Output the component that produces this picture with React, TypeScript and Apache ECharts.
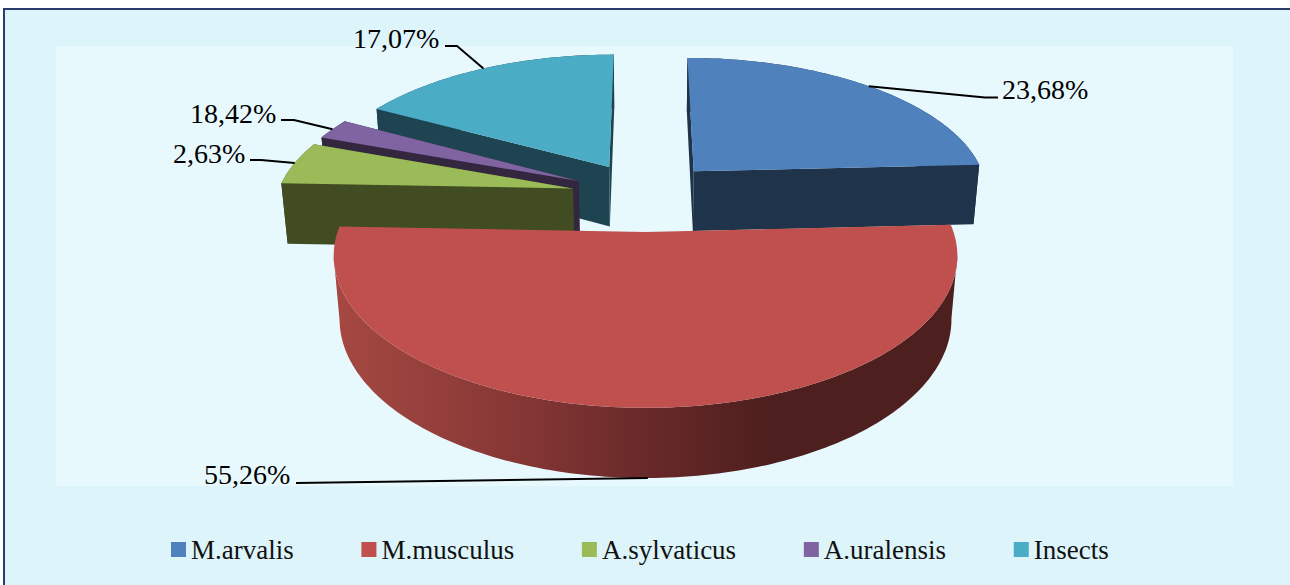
import React, { useEffect, useRef } from "react";
import * as echarts from "echarts";

// ---- data ----
const CATEGORIES = ["M.arvalis", "M.musculus", "A.sylvaticus", "A.uralensis", "Insects"];
// Sweep of every slice as drawn, in percent of the circle
const SWEEPS = [24.2, 51.4, 5.0, 2.4, 17.0];
// Labels printed on the chart (they do not follow the drawn sweeps)
const LABELS = ["23,68%", "55,26%", "2,63%", "18,42%", "17,07%"];

// ---- style ----
const TOP_COLORS = ["#4F81BD", "#BF504D", "#9BBB59", "#8064A2", "#4BACC6"];
const WALL_COLORS = ["#1F334A", "#6B2A28", "#414C22", "#33263F", "#1D4450"];
const SERIES_Z = [3, 6, 5, 4, 2];
const EXPLODE = [0.245, 0.26, 0.25, 0.25, 0.245];
const FONT = "Liberation Serif";
const LABEL_SIZE = 28;
const LEGEND_SIZE = 27;

// ---- projection of the tilted disc ----
const CX = 645;
const CY = 195;
const R = 296;
const K = 137;
const P = 0.15;
const Q = 0.018;
const D = 62;

// label layout: text left x, text centre y, leader path from the text to the rim
const LABEL_LAYOUT: { x: number; y: number; leader: number[][]; bottomRim?: boolean }[] = [
  { x: 1002, y: 89, leader: [[998, 97.5], [985, 97.5]] },
  { x: 204, y: 474, leader: [[296, 483]], bottomRim: true },
  { x: 173, y: 153, leader: [[250, 160], [261, 160]] },
  { x: 190, y: 113, leader: [[281, 120], [294, 120]] },
  { x: 353, y: 38, leader: [[445, 46], [457, 46]] },
];

const total = SWEEPS.reduce((a, b) => a + b, 0);
const starts: number[] = [];
SWEEPS.reduce((acc, v, i) => {
  starts[i] = acc;
  return acc + v;
}, 0);
const toAngle = (share: number) => (share / total) * Math.PI * 2;

function project(X: number, Y: number, bottom: boolean): number[] {
  const s = 1 / (1 - P * Y + (bottom ? Q : 0));
  return [CX + R * X * s, CY + (K * Y + (bottom ? D : 0)) * s];
}

function sliceGeometry(i: number) {
  const a0 = toAngle(starts[i]);
  const a1 = toAngle(starts[i] + SWEEPS[i]);
  const mid = (a0 + a1) / 2;
  const ox = Math.sin(mid) * EXPLODE[i];
  const oy = -Math.cos(mid) * EXPLODE[i];
  const rim = (a: number, bottom: boolean) => project(ox + Math.sin(a), oy - Math.cos(a), bottom);
  const arc = (bottom: boolean) => {
    const n = Math.max(8, Math.ceil((a1 - a0) / 0.02));
    const pts: number[][] = [];
    for (let k = 0; k <= n; k++) pts.push(rim(a0 + ((a1 - a0) * k) / n, bottom));
    return pts;
  };
  return {
    a0,
    a1,
    mid,
    rim,
    arc,
    apexTop: project(ox, oy, false),
    apexBottom: project(ox, oy, true),
  };
}

// Part of an arc between its rightmost and its leftmost point: the visible front of the wall
function frontPart(arc: number[][]) {
  let iMax = 0;
  let iMin = 0;
  arc.forEach((p, k) => {
    if (p[0] > arc[iMax][0]) iMax = k;
    if (p[0] < arc[iMin][0]) iMin = k;
  });
  return arc.slice(iMax, iMin + 1);
}

const redWall = {
  type: "linear",
  x: 335,
  y: 0,
  x2: 955,
  y2: 0,
  global: true,
  colorStops: [
    { offset: 0, color: "#A64842" },
    { offset: 0.3, color: "#853735" },
    { offset: 0.476, color: "#6C2B2A" },
    { offset: 0.7, color: "#4D1F1E" },
    { offset: 1, color: "#4D1F1E" },
  ],
};

function makeRenderItem(i: number) {
  return () => {
    const g = sliceGeometry(i);
    const topArc = g.arc(false);
    const bottomArc = g.arc(true);
    const wall = WALL_COLORS[i];
    const children: any[] = [];
    // outer wall
    const wallPoints =
      i === 1
        ? [...frontPart(topArc), ...frontPart(bottomArc).reverse()]
        : [...topArc, ...bottomArc.slice().reverse()];
    children.push({
      type: "polygon",
      shape: { points: wallPoints },
      style: { fill: i === 1 ? redWall : wall },
    });
    // cut faces
    if (i !== 1) {
      children.push({
        type: "polygon",
        shape: { points: [g.apexTop, g.rim(g.a0, false), g.rim(g.a0, true), g.apexBottom] },
        style: { fill: wall },
      });
      children.push({
        type: "polygon",
        shape: { points: [g.apexTop, g.rim(g.a1, false), g.rim(g.a1, true), g.apexBottom] },
        style: { fill: wall },
      });
    }
    // top face
    children.push({
      type: "polygon",
      shape: { points: [g.apexTop, ...topArc] },
      style: { fill: TOP_COLORS[i] },
    });
    // leader and label
    const layout = LABEL_LAYOUT[i];
    const anchor = g.rim(g.mid, !!layout.bottomRim);
    children.push({
      type: "polyline",
      shape: { points: [...layout.leader, anchor] },
      style: { stroke: "#000", lineWidth: 2, fill: "none" },
    });
    children.push({
      type: "text",
      style: {
        text: LABELS[i],
        x: layout.x,
        y: layout.y,
        fontSize: LABEL_SIZE,
        fontFamily: FONT,
        fill: "#000",
        align: "left",
        verticalAlign: "middle",
      },
    });
    return { type: "group", children };
  };
}

export default function App() {
  const ref = useRef<HTMLDivElement>(null);
  useEffect(() => {
    const chart = echarts.init(ref.current!, undefined, { renderer: "svg" });
    chart.setOption({
      animation: false,
      backgroundColor: "#FFFFFF",
      graphic: [
        { type: "rect", shape: { x: 5, y: 9, width: 1285, height: 576 }, style: { fill: "#DDF5FA" }, z: 0 },
        { type: "rect", shape: { x: 56, y: 46, width: 1177, height: 440 }, style: { fill: "#E8F9FE" }, z: 0 },
        { type: "rect", shape: { x: 3, y: 8, width: 1287, height: 2 }, style: { fill: "#2B3B6B" }, z: 1 },
        { type: "rect", shape: { x: 3, y: 8, width: 2, height: 577 }, style: { fill: "#2B3B6B" }, z: 1 },
      ],
      legend: {
        left: 171,
        top: 536,
        padding: 0,
        orient: "horizontal",
        icon: "rect",
        itemWidth: 15,
        itemHeight: 15,
        itemGap: 67.7,
        selectedMode: false,
        data: CATEGORIES,
        textStyle: { fontFamily: FONT, fontSize: LEGEND_SIZE, color: "#111" },
      },
      series: CATEGORIES.map((name, i) => ({
        type: "custom",
        name,
        coordinateSystem: "none",
        z: SERIES_Z[i],
        silent: true,
        itemStyle: { color: TOP_COLORS[i] },
        data: [[SWEEPS[i]]],
        renderItem: makeRenderItem(i),
      })),
    });
    return () => chart.dispose();
  }, []);
  return <div ref={ref} style={{ position: "absolute", left: 0, top: 0, width: 1290, height: 585 }} />;
}
